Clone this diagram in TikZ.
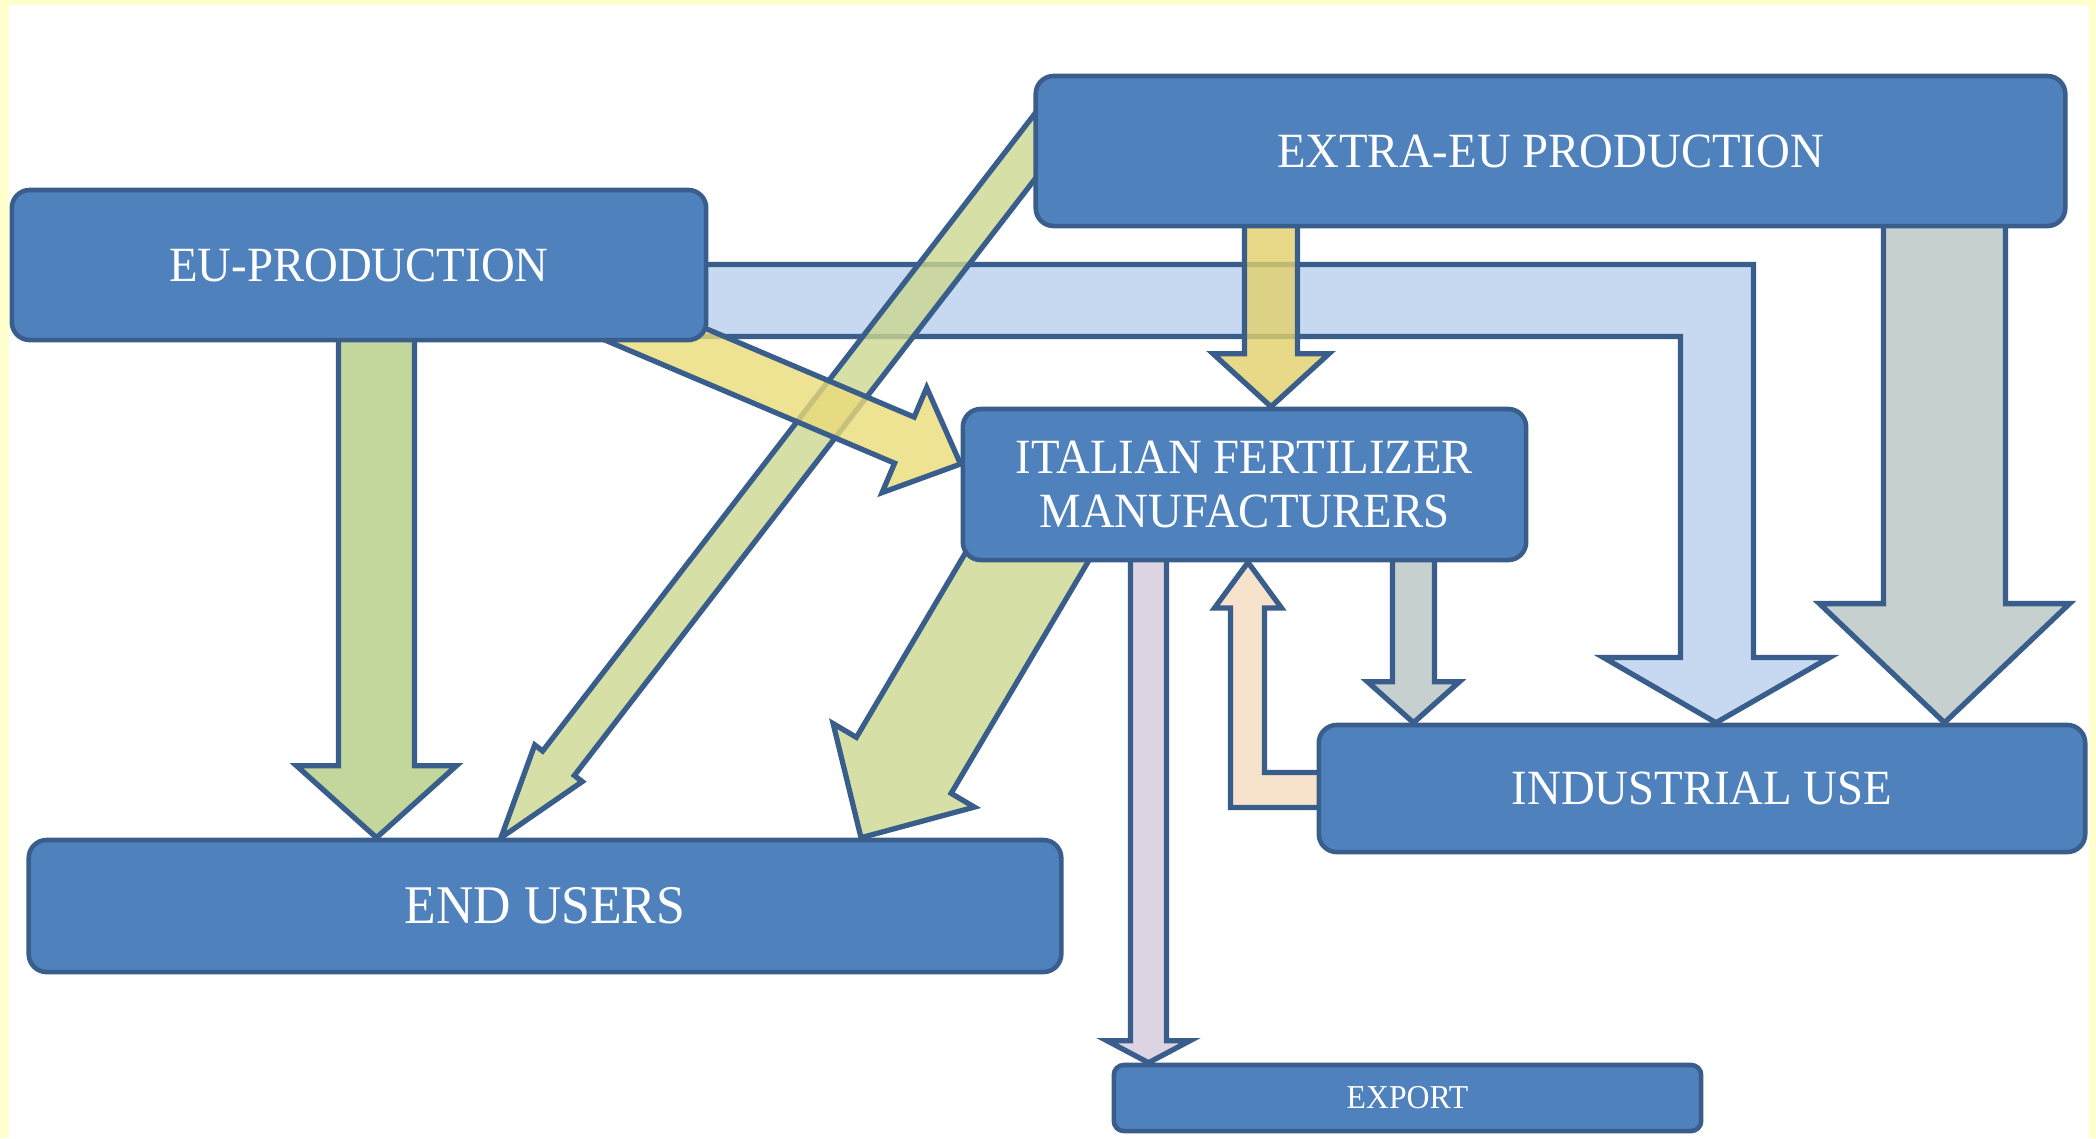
\documentclass[tikz,border=0pt]{standalone}
\usepackage{fontspec}
\setmainfont{Liberation Serif}[FakeStretch=0.95]
\usetikzlibrary{calc,backgrounds}

\definecolor{boxfill}{HTML}{4F81BD}
\definecolor{edgeblue}{HTML}{3A5E8C}
\definecolor{frameyellow}{HTML}{FFFFCC}
\definecolor{bandblue}{HTML}{C6D9F1}
\definecolor{solidgreen}{HTML}{C3D69B}
\definecolor{patgreen}{HTML}{CCD790}
\definecolor{patyellow}{HTML}{EADB78}
\definecolor{patyellowdark}{HTML}{E2D069}
\definecolor{patgray}{HTML}{B8C6C4}
\definecolor{patpeach}{HTML}{F6DCBE}
\definecolor{patlilac}{HTML}{D5CADC}

% block arrow from #2 to #3: shaft half width #4, head half width #5, head length #6
\newcommand{\flowarrow}[6]{%
  \path ($(#3)!#6!(#2)$) coordinate (fa-base);
  \draw[#1] ($(#2)!#4!90:(#3)$) -- ($(fa-base)!#4!90:(#3)$)
    -- ($(fa-base)!#5!90:(#3)$) -- (#3) -- ($(fa-base)!#5!-90:(#3)$)
    -- ($(fa-base)!#4!-90:(#3)$) -- ($(#2)!#4!-90:(#3)$) -- cycle;
}

\tikzset{
  unit/.style={draw=edgeblue, line width=1.3pt, fill=boxfill, rounded corners=0.18cm,
    text=white, align=center, inner sep=0pt},
  flow/.style={draw=edgeblue, line width=1.5pt, line join=miter},
  hatched/.style={flow, fill opacity=0.8},
}

\begin{document}
\begin{tikzpicture}[x=0.01cm, y=-0.01cm]
\useasboundingbox (0,0) rectangle (2096,1138);

% boxes
\node[unit, minimum width=6.94cm, minimum height=1.5cm,
  font=\fontsize{14}{16}\selectfont] (eu) at (359,265) {EU-PRODUCTION};
\node[unit, minimum width=10.29cm, minimum height=1.5cm,
  font=\fontsize{14}{16}\selectfont] (extra) at (1550.5,151) {EXTRA-EU PRODUCTION};
\node[unit, minimum width=5.63cm, minimum height=1.51cm,
  font=\fontsize{14}{15.6}\selectfont] (ital) at (1244.5,484.5) {ITALIAN FERTILIZER\\MANUFACTURERS};
\node[unit, minimum width=7.66cm, minimum height=1.27cm,
  font=\fontsize{14}{16}\selectfont] (ind) at (1702,788.5) {INDUSTRIAL USE};
\node[unit, minimum width=10.32cm, minimum height=1.32cm,
  font=\fontsize{15.5}{17}\selectfont] (endu) at (545,906) {END USERS};
\node[unit, rounded corners=0.1cm, minimum width=5.87cm, minimum height=0.66cm,
  font=\fontsize{9.5}{11}\selectfont] (exp) at (1407.5,1098) {EXPORT};

% arrow ends
\coordinate (a1s) at (376.5,0 |- eu.center);
\coordinate (a1t) at (376.5,0 |- endu.north);
\coordinate (a2s) at (570,298);
\coordinate (a2t) at (ital.west |- 0,464);
\coordinate (a3s) at (1063,110);
\coordinate (a3t) at (501,0 |- endu.north);
\coordinate (a4s) at (1271,0 |- extra.center);
\coordinate (a4t) at (1271,0 |- ital.north);
\coordinate (a5s) at (1944.5,0 |- extra.center);
\coordinate (a5t) at (1944.5,0 |- ind.north);
\coordinate (a7s) at (1413.5,0 |- ital.center);
\coordinate (a7t) at (1413.5,0 |- ind.north);
\coordinate (a9s) at (1148.5,0 |- ital.center);
\coordinate (a9t) at (1148.5,0 |- exp.north);
\coordinate (a10s) at (1063,496);
\coordinate (a10t) at (861,0 |- endu.north);
\coordinate (bandtip) at (1716,0 |- ind.north);
\coordinate (backtip) at (1248,0 |- ital.south);

\begin{scope}[on background layer]
  % frame
  \fill[frameyellow] (0,0) rectangle (2096,1138);
  \fill[white] (9,5) rectangle (2089,1138);

  % EU-production to industrial use
  \draw[flow, fill=bandblue] (690,264.5) -- (1753.5,264.5) -- (1753.5,657.5)
    -- (1829.5,657.5) -- (bandtip) -- (1603.5,657.5) -- (1680.5,657.5)
    -- (1680.5,336.5) -- (690,336.5) -- cycle;

  % EU-production to end users
  \flowarrow{flow, fill=solidgreen}{a1s}{a1t}{0.38cm}{0.80cm}{0.72cm}

  % extra-EU production to industrial use
  \flowarrow{hatched, fill=patgray}{a5s}{a5t}{0.61cm}{1.25cm}{1.19cm}

  % manufacturers to industrial use
  \flowarrow{hatched, fill=patgray}{a7s}{a7t}{0.21cm}{0.46cm}{0.41cm}

  % industrial use back to manufacturers
  \draw[hatched, fill=patpeach] (1340,772.5) -- (1264.5,772.5) -- (1264.5,608)
    -- (1281.5,608) -- (backtip) -- (1214.5,608) -- (1230.5,608)
    -- (1230.5,807.5) -- (1340,807.5) -- cycle;

  % manufacturers to export
  \flowarrow{hatched, fill=patlilac}{a9s}{a9t}{0.18cm}{0.415cm}{0.22cm}

  % manufacturers to end users
  \flowarrow{hatched, fill=patgreen}{a10s}{a10t}{0.55cm}{0.82cm}{0.84cm}

  % extra-EU production to end users
  \flowarrow{hatched, fill=patgreen}{a3s}{a3t}{0.20cm}{0.30cm}{0.94cm}

  % EU-production to manufacturers
  \flowarrow{hatched, fill=patyellow}{a2s}{a2t}{0.25cm}{0.57cm}{0.61cm}

  % extra-EU production to manufacturers
  \flowarrow{hatched, fill=patyellowdark}{a4s}{a4t}{0.265cm}{0.58cm}{0.53cm}
\end{scope}
\end{tikzpicture}
\end{document}
